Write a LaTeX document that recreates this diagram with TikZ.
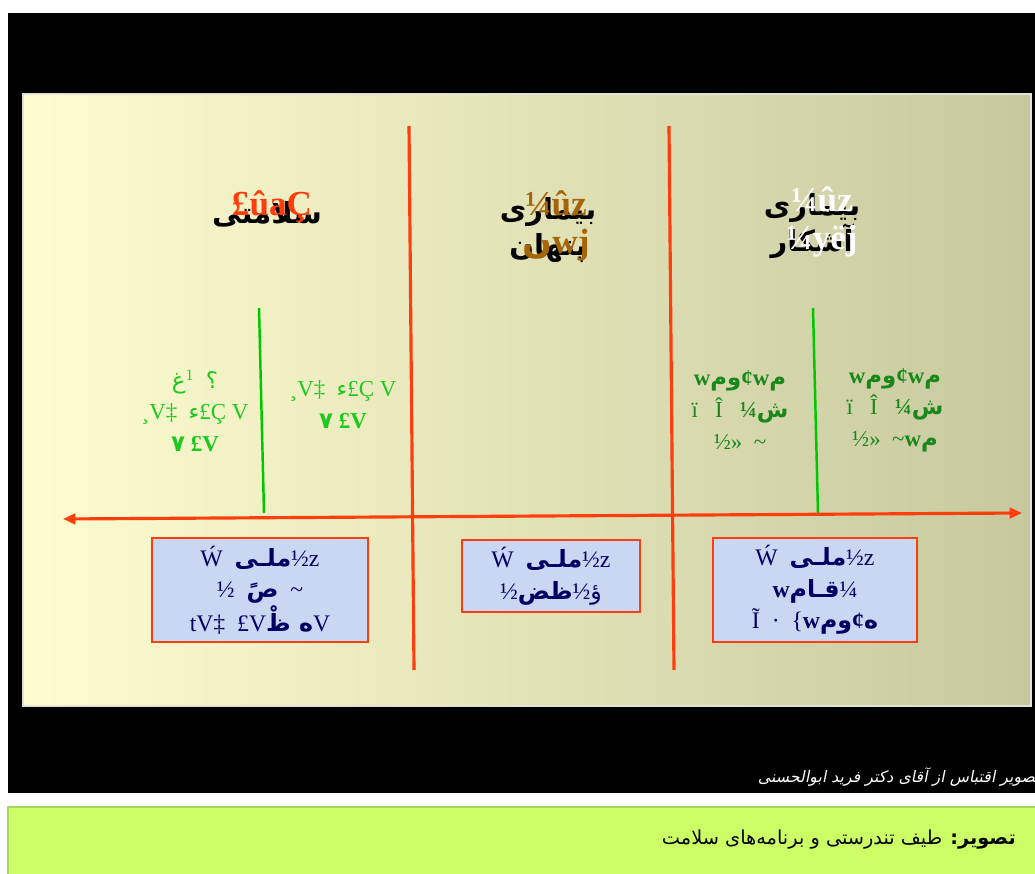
\documentclass[tikz,border=0pt]{standalone}
\usepackage{fontspec}
\setmainfont{Liberation Serif}
\newfontfamily\arabicfont[Script=Arabic]{DejaVu Sans}
\newfontfamily\arabicslant[Script=Arabic,FakeSlant=0.2]{DejaVu Sans}
\TeXXeTstate=1
\usepackage{tikz}
\usetikzlibrary{arrows.meta}
\definecolor{lineorange}{RGB}{255,62,14}
\definecolor{linegreen}{RGB}{0,200,0}
\definecolor{lightgreen}{RGB}{30,200,30}
\definecolor{darkgreen}{RGB}{25,135,25}
\definecolor{navy}{RGB}{0,0,100}
\definecolor{ochre}{RGB}{165,100,10}
\definecolor{panelL}{RGB}{254,253,208}
\definecolor{panelR}{RGB}{198,200,158}
\definecolor{paneledge}{RGB}{225,225,215}
\definecolor{boxblue}{RGB}{202,215,243}
\definecolor{capgreen}{RGB}{204,255,102}
\definecolor{capedge}{RGB}{165,215,95}
\newcommand{\ar}[1]{{\arabicfont\beginR #1\endR}}
\newcommand{\divider}[4]{\draw[divline] ( #1 , #2 ) -- ( #3 , #4 );}
\newcommand{\stem}[4]{\draw[stemline] ( #1 , #2 ) -- ( #3 , #4 );}
\tikzset{
  divline/.style={lineorange, line width=1.8pt},
  stemline/.style={linegreen, line width=1.4pt},
  axisline/.style={lineorange, line width=1.8pt, {Triangle[length=7pt,width=6pt]}-{Triangle[length=7pt,width=6pt]}},
  headfa/.style={font=\arabicfont\bfseries\fontsize{16.5}{21}\selectfont, text=black, align=center},
  headgb/.style={font=\bfseries\fontsize{20}{22}\selectfont, align=center},
  noteleft/.style={text=lightgreen, font=\fontsize{13}{18}\selectfont, align=center},
  noteright/.style={text=darkgreen, font=\fontsize{13}{18}\selectfont, align=center},
  stagebox/.style={draw=lineorange, line width=1.6pt, fill=boxblue, text=navy,
    font=\fontsize{13.5}{18}\selectfont, align=center, inner sep=0pt},
}
\begin{document}
\begin{tikzpicture}[x=0.02cm,y=-0.02cm]
  \useasboundingbox (0,0) rectangle (1035,874);
  \fill[white] (0,0) rectangle (1035,874);
  % slide
  \fill[black] (8,13) rectangle (1040,793);
  \shade[left color=panelL, right color=panelR] (23,94) rectangle (1031,706);
  \draw[paneledge, line width=0.6pt] (23,94) rectangle (1031,706);
  \node[anchor=east, text=white, font=\arabicslant\fontsize{9}{11}\selectfont] (credit) at (1046,777)
    {\beginR تصویر اقتباس از آقای دکتر فرید ابوالحسنی\endR};
  % caption
  \filldraw[fill=capgreen, draw=capedge, line width=1pt] (8,807) rectangle (1040,880);
  \node[anchor=east, font=\arabicfont\fontsize{11}{13}\selectfont] (figcap) at (1022,840)
    {\beginR{\bfseries تصویر:} طیف تندرستی و برنامه‌های سلامت\endR};
  % lines
  \coordinate (axL) at (63,519);
  \coordinate (axR) at (1022,513);
  \draw[axisline] (axL) -- (axR);
  \divider{409}{126}{414}{670}
  \divider{669}{126}{674}{670}
  \stem{259}{308}{264}{513}
  \stem{813}{308}{818}{513}
  % headings
  \node[headfa] (hHealth) at (267,214) {\beginR سلامتی\endR};
  \node[headgb, text=lineorange] (gHealth) at (272,207) {£ûaÇ};
  \node[headfa] (hHidden) at (548,230) {\beginR بیماری\endR\\\beginR پنهان\endR};
  \node[headgb, text=ochre] (gHidden) at (556,226) {¼ûz\\\ar{ں}wj};
  \node[headfa] (hOvert) at (812,226) {\beginR بیماری\endR\\\beginR آشکار\endR};
  \node[headgb, text=white] (gOvert) at (822,222) {¼ûz\\¼yëj};
  % notes
  \node[noteleft] (nOne) at (195,411) {\ar{غ}$^1$\ \ \ar{؟}\\¸V‡\ \ \ar{ء}£Ç V\\{\bfseries\ar{٧} £V}};
  \node[noteleft] (nTwo) at (343,405) {¸V‡\ \ \ar{ء}£Ç V\\{\bfseries\ar{٧} £V}};
  \node[noteright] (nThree) at (740,410) {{\bfseries w\ar{وم}¢w\ar{م}}\\ï\ \ \ Î\ \ \ {\bfseries¼\ar{ش}}\\½»\ \ \textasciitilde};
  \node[noteright] (nFour) at (895,410) {{\bfseries w\ar{وم}¢w\ar{م}}\\ï\ \ \ Î\ \ \ {\bfseries¼\ar{ش}}\\½»\ \ \textasciitilde{\bfseries w\ar{م}}};
  % boxes
  \node[stagebox, minimum width=4.32cm, minimum height=2.08cm] (bOne) at (260,590)
    {Ẃ\ \ {\bfseries\ar{ملـى}}½z\\½\ \ {\bfseries\ar{صً}}\ \ \textasciitilde\\tV‡\ \ £V{\bfseries\ar{ه ظْ}}V};
  \node[stagebox, minimum width=3.56cm, minimum height=1.44cm] (bTwo) at (551,576)
    {Ẃ\ \ {\bfseries\ar{ملـى}}½z\\½{\bfseries\ar{ظض}}½\ar{ؤ}};
  \node[stagebox, minimum width=4.08cm, minimum height=2.08cm] (bThree) at (815,590)
    {Ẃ\ \ {\bfseries\ar{ملـى}}½z\\{\bfseries w\ar{قـام}}¼\\Ĩ\ \ ·\ \ \{{\bfseries w\ar{وم}¢\ar{ه}}};
\end{tikzpicture}
\end{document}
